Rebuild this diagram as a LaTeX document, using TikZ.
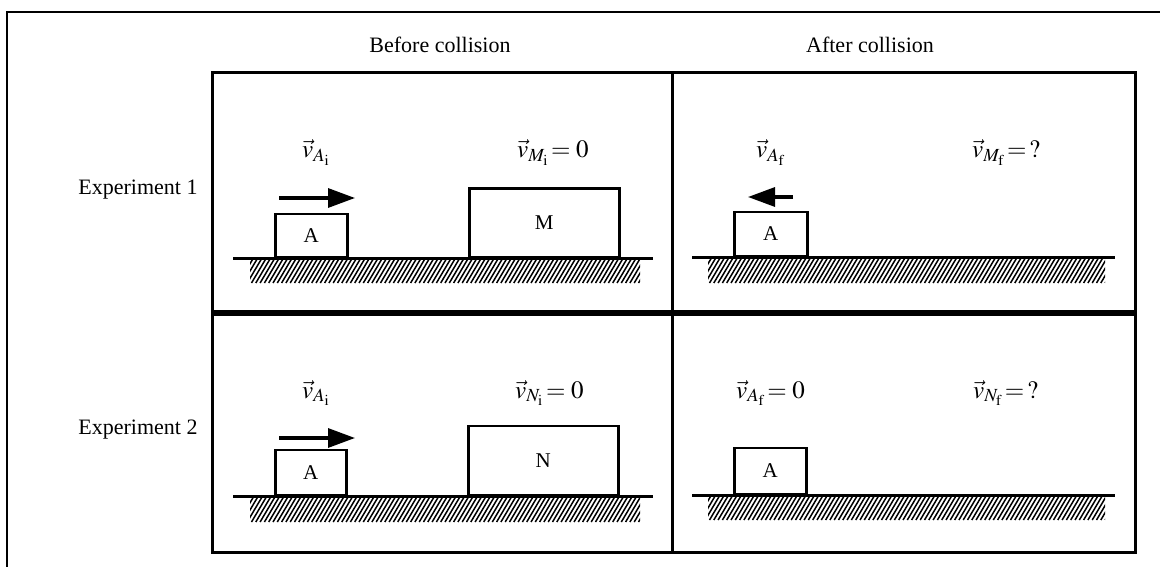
\documentclass[tikz,border=0pt]{standalone}
\usepackage{mathptmx}
\usepackage[no-math]{fontspec}
\setmainfont{Liberation Serif}
\usetikzlibrary{arrows.meta}
\tikzset{
  outer/.style={line width=2pt},
  grid/.style={line width=3pt},
  midline/.style={line width=6pt},
  block/.style={draw, line width=2.5pt, fill=white, anchor=south west, inner sep=0pt,
    font=\fontsize{21}{24}\selectfont},
  ground/.style={line width=3pt},
  hatchline/.style={line width=1.5pt},
  motion/.style={line width=3.2pt, -{Triangle[length=27pt,width=19pt]}},
  lbl/.style={font=\fontsize{22}{26}\selectfont, inner sep=0pt},
  vlbl/.style={font=\fontsize{25}{28}\selectfont, inner sep=0pt, anchor=base west},
}
\newcommand\myhatch[4]{%
  \begin{scope}
    \clip (#1,#2) rectangle (#3,#4);
    \foreach \i in {0,...,112} {\draw[hatchline] ({#1-20+\i*4.3},#4) -- ++(16,-27);}
  \end{scope}}
\begin{document}
\begin{tikzpicture}[x=1pt,y=-1pt]
\useasboundingbox (0,0) rectangle (1160,567);
% outer frame
\draw[outer] (1160,12) -- (7,12) -- (7,567);
% titles
\node[lbl] (before) at (440,45) {Before collision};
\node[lbl] (after) at (870,45) {After collision};
\node[lbl] (exp1) at (138,190) {Experiment 1};
\node[lbl] (exp2) at (138,430) {Experiment 2};
% grid
\draw[grid] (212,73) rectangle (1135,552);
\draw[grid] (672,73) -- (672,552);
\draw[midline] (212,313) -- (1135,313);
% ---------- panel 1
\myhatch{250}{258}{640}{283}
\node[block, minimum width=72pt, minimum height=43pt] (a1) at (274,258) {A};
\node[block, minimum width=150pt, minimum height=68pt] (m1) at (468,258) {M};
\draw[ground] (233,258) -- (653,258);
\coordinate (a1s) at (279,198); \coordinate (a1e) at (355,198);
\draw[motion] (a1s) -- (a1e);
\node[vlbl] (lva1) at (302,158) {$\vec{v}_{A_{\mathrm{i}}}$};
\node[vlbl] (lvm1) at (517,158) {$\vec{v}_{M_{\mathrm{i}}}\!= 0$};
% ---------- panel 2
\myhatch{708}{257}{1105}{283}
\node[block, minimum width=73pt, minimum height=44pt] (a2) at (733,257) {A};
\draw[ground] (692,257) -- (1115,257);
\coordinate (a2s) at (793,197); \coordinate (a2e) at (748,197);
\draw[motion] (a2s) -- (a2e);
\node[vlbl] (lva2) at (756,158) {$\vec{v}_{A_{\mathrm{f}}}$};
\node[vlbl] (lvm2) at (972,158) {$\vec{v}_{M_{\mathrm{f}}}\!= \,?$};
% ---------- panel 3
\myhatch{250}{496}{640}{522}
\node[block, minimum width=71pt, minimum height=45pt] (a3) at (274,496) {A};
\node[block, minimum width=150pt, minimum height=69pt] (n3) at (467,496) {N};
\draw[ground] (233,496) -- (653,496);
\coordinate (a3s) at (279,438); \coordinate (a3e) at (355,438);
\draw[motion] (a3s) -- (a3e);
\node[vlbl] (lva3) at (302,398) {$\vec{v}_{A_{\mathrm{i}}}$};
\node[vlbl] (lvn3) at (515,398) {$\vec{v}_{N_{\mathrm{i}}}\!= 0$};
% ---------- panel 4
\myhatch{708}{495}{1105}{520}
\node[block, minimum width=72pt, minimum height=46pt] (a4) at (733,495) {A};
\draw[ground] (692,495) -- (1115,495);
\node[vlbl] (lva4) at (736,398) {$\vec{v}_{A_{\mathrm{f}}}\!= 0$};
\node[vlbl] (lvn4) at (973,398) {$\vec{v}_{N_{\mathrm{f}}}\!= \,?$};
\end{tikzpicture}
\end{document}
